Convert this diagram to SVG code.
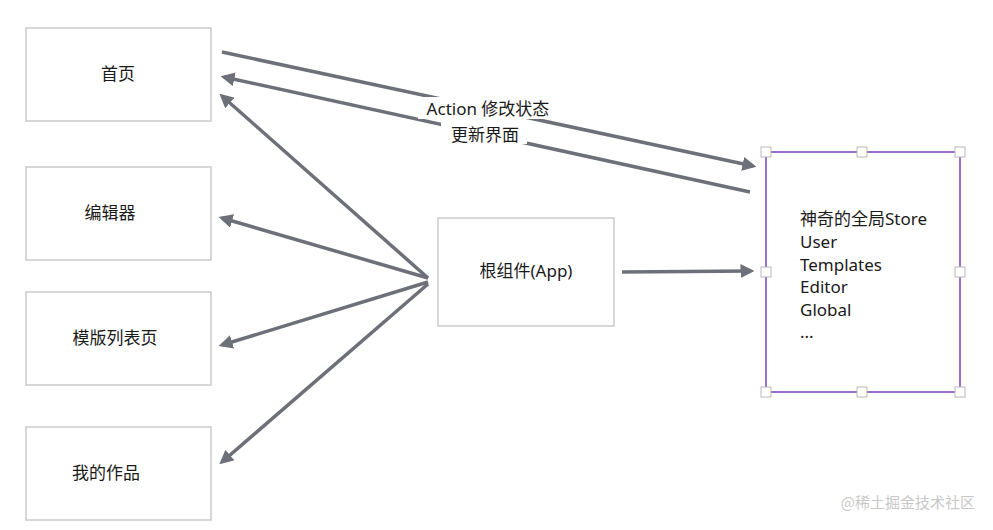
<svg xmlns="http://www.w3.org/2000/svg" width="993" height="530" viewBox="0 0 993 530">
<style>
.box{fill:#fff;stroke:#c9cacc;stroke-width:1.5}
.t{font-family:"Noto Sans","Noto Sans CJK SC",sans-serif;font-size:17px;fill:#1a1a1a}
.c{stroke:#6e7079;stroke-width:3.5;fill:none;marker-end:url(#a)}
.h{fill:#fff;stroke:#b8b8b8;stroke-width:1}
</style>
<defs><marker id="a" markerWidth="4" markerHeight="4" refX="3" refY="2" orient="auto"><path d="M0,0L4,2L0,4z" fill="#6e7079"/></marker></defs>
<rect width="993" height="530" fill="#fff"/>
<g id="home"><rect class="box" x="26" y="28" width="185" height="93"/><text class="t" x="118" y="80" text-anchor="middle">首页</text></g>
<g id="editor"><rect class="box" x="26" y="167" width="185" height="93"/><text class="t" x="110" y="219" text-anchor="middle">编辑器</text></g>
<g id="templates"><rect class="box" x="26" y="292" width="185" height="93"/><text class="t" x="115" y="344" text-anchor="middle">模版列表页</text></g>
<g id="works"><rect class="box" x="26" y="427" width="185" height="93"/><text class="t" x="106" y="479" text-anchor="middle">我的作品</text></g>
<g id="app"><rect class="box" x="438" y="218" width="176" height="108"/><text class="t" x="526" y="277" text-anchor="middle">根组件(App)</text></g>
<g id="connectors">
<path class="c" d="M222,52L753,166"/>
<path class="c" d="M750,192L224,77"/>
<path class="c" d="M428,278L222,96"/>
<path class="c" d="M428,278L222,218"/>
<path class="c" d="M428,282L222,345"/>
<path class="c" d="M428,284L222,462"/>
<path class="c" d="M622,272L751,271"/>
<rect x="418" y="97" width="140" height="22" fill="#fff"/>
<text class="t" x="488" y="115" text-anchor="middle">Action 修改状态</text>
<rect x="441" y="122" width="86" height="22" fill="#fff"/>
<text class="t" x="485" y="141" text-anchor="middle">更新界面</text>
</g>
<g id="store">
<rect x="766" y="152" width="194" height="240" fill="none" stroke="#9b6fce" stroke-width="2"/>
<rect class="h" x="761" y="147" width="10" height="10"/><rect class="h" x="857" y="147" width="10" height="10"/><rect class="h" x="955" y="147" width="10" height="10"/>
<rect class="h" x="761" y="267" width="10" height="10"/><rect class="h" x="955" y="267" width="10" height="10"/>
<rect class="h" x="761" y="387" width="10" height="10"/><rect class="h" x="857" y="387" width="10" height="10"/><rect class="h" x="955" y="387" width="10" height="10"/>
<text class="t" x="800" y="225">神奇的全局Store</text>
<text class="t" x="800" y="248">User</text>
<text class="t" x="800" y="271">Templates</text>
<text class="t" x="800" y="293">Editor</text>
<text class="t" x="800" y="316">Global</text>
<text class="t" x="800" y="338">...</text>
</g>
<text x="975" y="508" text-anchor="end" font-family="Noto Sans CJK SC,sans-serif" font-size="15" fill="#c8c8c8">@稀土掘金技术社区</text>
</svg>
